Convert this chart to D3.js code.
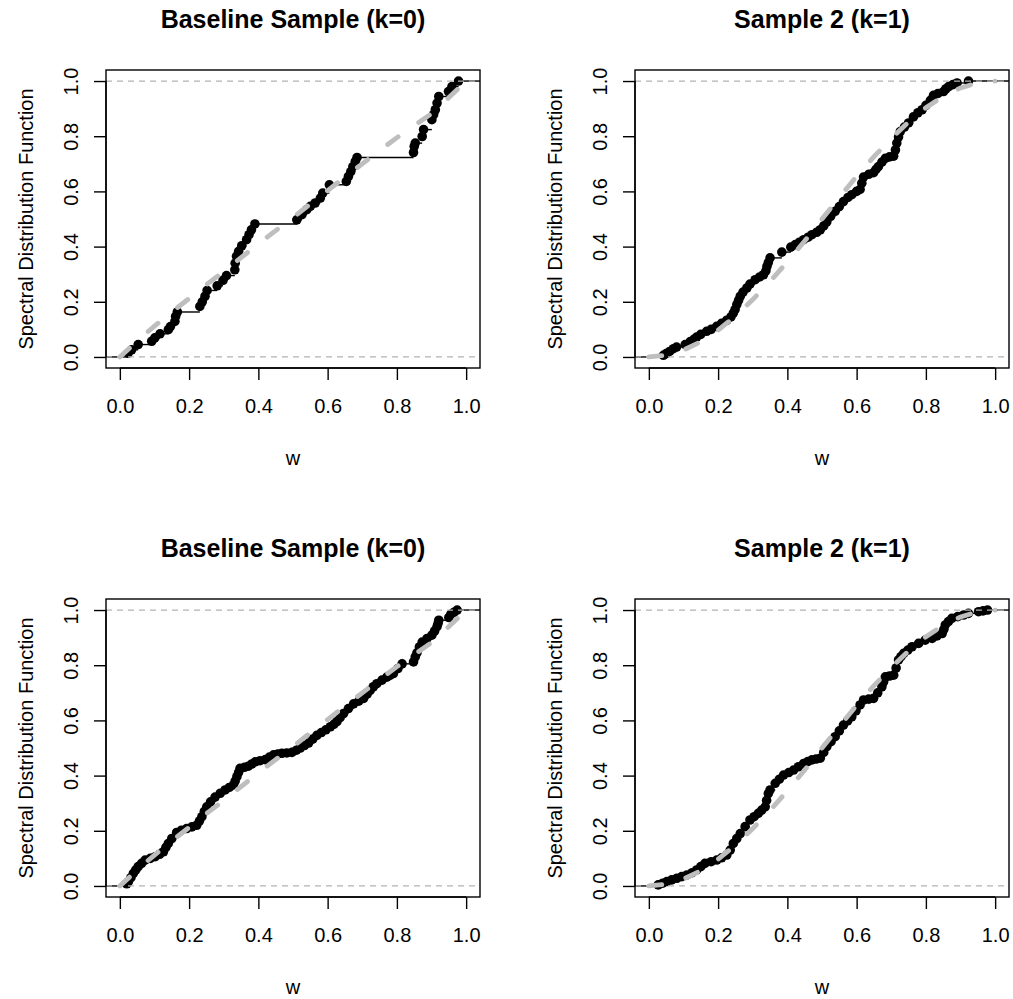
<!DOCTYPE html>
<html>
<head>
<meta charset="utf-8">
<script src="https://cdn.jsdelivr.net/npm/d3@7"></script>
<style>
  html, body { margin: 0; padding: 0; background: #fff; }
  svg { display: block; font-family: "Liberation Sans", Arial, Helvetica, sans-serif; }
</style>
</head>
<body>
<svg id="chart" width="1013" height="999"></svg>
<script>
// tick values and titles
const wTicks = [0, 0.2, 0.4, 0.6, 0.8, 1.0];
const fTicks = [0, 0.2, 0.4, 0.6, 0.8, 1.0];
const titles = ["Baseline Sample (k=0)", "Sample 2 (k=1)", "Baseline Sample (k=0)", "Sample 2 (k=1)"];

// theoretical spectral distribution (grey dashed)
const curveW  = [0, 0.05, 0.1, 0.15, 0.2, 0.25, 0.3, 0.35, 0.4, 0.45, 0.5, 0.55, 0.6, 0.65, 0.7, 0.75, 0.8, 0.85, 0.9, 0.95, 1.0];
const curveK0 = [0, 0.058, 0.112, 0.163, 0.212, 0.262, 0.31, 0.36, 0.41, 0.458, 0.505, 0.555, 0.603, 0.652, 0.7, 0.748, 0.795, 0.838, 0.882, 0.94, 1.0];
const curveK1 = [0, 0.006, 0.025, 0.055, 0.097, 0.148, 0.208, 0.274, 0.345, 0.42, 0.5, 0.578, 0.655, 0.726, 0.792, 0.852, 0.903, 0.945, 0.975, 0.994, 1.0];

// empirical SDF points [w, Fn(w)] for each panel
const topLeftPts = [
  [0.024,0.014],[0.034,0.026],[0.053,0.045],[0.092,0.057],[0.101,0.069],[0.116,0.084],[0.14,0.099],
  [0.146,0.11],[0.159,0.129],[0.161,0.147],[0.166,0.163],[0.231,0.183],[0.238,0.2],[0.246,0.22],
  [0.252,0.241],[0.281,0.258],[0.298,0.278],[0.308,0.295],[0.332,0.316],[0.333,0.34],[0.337,0.365],
  [0.343,0.383],[0.352,0.403],[0.366,0.425],[0.373,0.443],[0.38,0.461],[0.39,0.482],[0.511,0.497],
  [0.526,0.516],[0.54,0.534],[0.55,0.546],[0.564,0.558],[0.579,0.576],[0.586,0.594],[0.605,0.624],
  [0.654,0.636],[0.66,0.654],[0.667,0.672],[0.673,0.69],[0.68,0.709],[0.685,0.723],[0.848,0.741],
  [0.85,0.763],[0.853,0.775],[0.873,0.799],[0.877,0.824],[0.901,0.86],[0.906,0.878],[0.911,0.896],
  [0.916,0.92],[0.921,0.944],[0.949,0.962],[0.959,0.98],[0.978,1.0]
];
const topRightPts = [
  [0.042,0.006],[0.05,0.012],[0.06,0.02],[0.071,0.03],[0.08,0.036],[0.105,0.045],[0.12,0.056],
  [0.13,0.064],[0.138,0.072],[0.15,0.082],[0.167,0.093],[0.18,0.1],[0.196,0.111],[0.21,0.122],
  [0.225,0.133],[0.237,0.145],[0.244,0.159],[0.249,0.172],[0.254,0.19],[0.259,0.205],[0.264,0.22],
  [0.272,0.235],[0.283,0.25],[0.292,0.264],[0.307,0.28],[0.32,0.29],[0.331,0.298],[0.338,0.312],
  [0.341,0.328],[0.345,0.342],[0.35,0.359],[0.384,0.38],[0.41,0.398],[0.423,0.407],[0.435,0.416],
  [0.447,0.425],[0.46,0.434],[0.471,0.443],[0.485,0.452],[0.495,0.461],[0.505,0.475],[0.514,0.49],
  [0.525,0.51],[0.538,0.528],[0.55,0.545],[0.562,0.563],[0.575,0.578],[0.586,0.588],[0.6,0.6],
  [0.61,0.607],[0.615,0.63],[0.62,0.652],[0.635,0.662],[0.649,0.668],[0.656,0.68],[0.663,0.69],
  [0.673,0.706],[0.683,0.72],[0.695,0.725],[0.707,0.728],[0.712,0.75],[0.716,0.775],[0.721,0.797],
  [0.726,0.817],[0.738,0.833],[0.75,0.848],[0.764,0.87],[0.777,0.885],[0.789,0.896],[0.8,0.912],
  [0.813,0.93],[0.822,0.948],[0.835,0.955],[0.851,0.962],[0.858,0.972],[0.866,0.98],[0.878,0.987],
  [0.89,0.993],[0.923,1.0]
];
const bottomLeftPts = [
  [0.02,0.008],[0.025,0.016],[0.032,0.03],[0.039,0.046],[0.046,0.058],[0.053,0.07],[0.063,0.082],
  [0.073,0.094],[0.088,0.1],[0.102,0.106],[0.115,0.115],[0.126,0.124],[0.133,0.14],[0.14,0.154],
  [0.15,0.172],[0.164,0.194],[0.178,0.202],[0.193,0.208],[0.208,0.214],[0.222,0.22],[0.23,0.236],
  [0.237,0.251],[0.244,0.27],[0.251,0.287],[0.262,0.305],[0.275,0.322],[0.29,0.336],[0.304,0.348],
  [0.316,0.357],[0.328,0.366],[0.333,0.38],[0.338,0.396],[0.343,0.412],[0.347,0.426],[0.36,0.43],
  [0.371,0.434],[0.381,0.442],[0.391,0.45],[0.405,0.454],[0.42,0.458],[0.432,0.467],[0.444,0.475],
  [0.456,0.478],[0.468,0.481],[0.482,0.482],[0.497,0.484],[0.51,0.492],[0.521,0.5],[0.533,0.509],
  [0.545,0.518],[0.557,0.532],[0.569,0.546],[0.582,0.556],[0.595,0.566],[0.608,0.577],[0.618,0.586],
  [0.627,0.596],[0.636,0.61],[0.646,0.625],[0.66,0.643],[0.675,0.66],[0.69,0.67],[0.704,0.68],
  [0.714,0.695],[0.723,0.709],[0.732,0.722],[0.742,0.733],[0.757,0.746],[0.771,0.757],[0.78,0.763],
  [0.79,0.77],[0.803,0.788],[0.815,0.805],[0.848,0.812],[0.853,0.83],[0.858,0.845],[0.865,0.866],
  [0.873,0.884],[0.887,0.897],[0.901,0.909],[0.909,0.924],[0.916,0.94],[0.919,0.952],[0.921,0.963],
  [0.95,0.973],[0.956,0.985],[0.965,0.992],[0.974,1.0]
];
const bottomRightPts = [
  [0.027,0.004],[0.04,0.01],[0.052,0.016],[0.066,0.022],[0.081,0.028],[0.095,0.034],[0.11,0.04],
  [0.125,0.048],[0.138,0.058],[0.15,0.07],[0.162,0.082],[0.18,0.088],[0.196,0.094],[0.21,0.102],
  [0.225,0.112],[0.235,0.13],[0.244,0.154],[0.254,0.172],[0.264,0.19],[0.278,0.215],[0.292,0.239],
  [0.304,0.251],[0.316,0.263],[0.326,0.275],[0.336,0.287],[0.34,0.31],[0.345,0.335],[0.35,0.348],
  [0.365,0.372],[0.377,0.387],[0.389,0.402],[0.404,0.411],[0.418,0.42],[0.432,0.432],[0.447,0.444],
  [0.459,0.451],[0.471,0.457],[0.483,0.46],[0.495,0.463],[0.505,0.484],[0.514,0.505],[0.526,0.523],
  [0.538,0.541],[0.55,0.562],[0.562,0.583],[0.574,0.598],[0.586,0.613],[0.598,0.635],[0.61,0.656],
  [0.62,0.674],[0.635,0.677],[0.649,0.68],[0.661,0.7],[0.673,0.722],[0.678,0.74],[0.683,0.758],
  [0.695,0.761],[0.707,0.764],[0.714,0.79],[0.721,0.819],[0.728,0.831],[0.736,0.843],[0.748,0.855],
  [0.76,0.867],[0.779,0.879],[0.798,0.891],[0.818,0.897],[0.832,0.906],[0.847,0.915],[0.852,0.93],
  [0.856,0.946],[0.865,0.958],[0.875,0.97],[0.892,0.976],[0.909,0.982],[0.923,0.988],[0.952,0.994],
  [0.965,0.997],[0.978,1.0]
];

const panelPts = [topLeftPts, topRightPts, bottomLeftPts, bottomRightPts];
const panelCurve = [curveK0, curveK1, curveK0, curveK1];

// layout (R par(mfrow=c(2,2)) style)
const colLeft = [106, 635];
const rowTop = [70, 599];
const pw = 374, ph = 298;
const tickLen = 12;

const svg = d3.select("#chart");

panelPts.forEach((pts, i) => {
  const left = colLeft[i % 2], top = rowTop[Math.floor(i / 2)];
  const x = d3.scaleLinear().domain([-0.04, 1.04]).range([left, left + pw]);
  const y = d3.scaleLinear().domain([-0.04, 1.04]).range([top + ph, top]);
  const g = svg.append("g");

  const clipId = "clip" + i;
  svg.append("clipPath").attr("id", clipId)
    .append("rect").attr("x", left).attr("y", top).attr("width", pw).attr("height", ph);
  const plot = g.append("g").attr("clip-path", `url(#${clipId})`);

  // horizontal step segments (verticals = FALSE)
  const xs = pts.map(d => d[0]);
  const segs = [[-0.04, xs[0], 0]].concat(pts.map((d, j) => [d[0], j + 1 < pts.length ? xs[j + 1] : 1.04, d[1]]));
  plot.selectAll("line.step")
    .data(segs)
    .join("line")
    .attr("class", "step")
    .attr("x1", d => x(d[0])).attr("x2", d => x(d[1]))
    .attr("y1", d => y(d[2])).attr("y2", d => y(d[2]))
    .attr("stroke", "#000").attr("stroke-width", 1.4);

  plot.selectAll("circle")
    .data(pts)
    .join("circle")
    .attr("cx", d => x(d[0]))
    .attr("cy", d => y(d[1]))
    .attr("r", 4.8)
    .attr("fill", "#000");

  // 0 / 1 reference lines
  plot.selectAll("line.ref")
    .data([0, 1])
    .join("line")
    .attr("class", "ref")
    .attr("x1", left).attr("x2", left + pw)
    .attr("y1", d => y(d)).attr("y2", d => y(d))
    .attr("stroke", "#b3b3b3").attr("stroke-width", 1.3)
    .attr("stroke-dasharray", "6,5");

  // theoretical curve
  const line = d3.line().x((d, j) => x(curveW[j])).y(d => y(d));
  plot.append("path")
    .attr("d", line(panelCurve[i]))
    .attr("fill", "none")
    .attr("stroke", "#bebebe")
    .attr("stroke-width", 4.8)
    .attr("stroke-linecap", "round")
    .attr("stroke-dasharray", "13,25");

  // box
  g.append("rect")
    .attr("x", left).attr("y", top).attr("width", pw).attr("height", ph)
    .attr("fill", "none").attr("stroke", "#000").attr("stroke-width", 1.4);

  // axes
  const xAxis = d3.axisBottom(x).tickValues(wTicks).tickSize(tickLen).tickFormat(d3.format(".1f"));
  const ax = g.append("g").attr("transform", `translate(0,${top + ph})`).call(xAxis);
  ax.select(".domain").attr("d", `M${x(0)},0H${x(1)}`).attr("stroke-width", 1.4);
  ax.selectAll(".tick line").attr("stroke-width", 1.4);
  ax.selectAll(".tick text").attr("font-size", 20).attr("font-family", null)
    .attr("y", 45).attr("dy", null).attr("fill", "#000");

  const yAxis = d3.axisLeft(y).tickValues(fTicks).tickSize(tickLen).tickFormat(d3.format(".1f"));
  const ay = g.append("g").attr("transform", `translate(${left},0)`).call(yAxis);
  ay.select(".domain").attr("d", `M0,${y(0)}V${y(1)}`).attr("stroke-width", 1.4);
  ay.selectAll(".tick line").attr("stroke-width", 1.4);
  ay.selectAll(".tick text").attr("font-size", 20).attr("font-family", null)
    .attr("x", null).attr("dy", null)
    .attr("transform", "translate(-28,0) rotate(-90)")
    .attr("text-anchor", "middle").attr("fill", "#000");

  // titles and axis labels
  g.append("text")
    .attr("x", left + pw / 2).attr("y", top - 42)
    .attr("text-anchor", "middle").attr("font-size", 25).attr("font-weight", "bold")
    .text(titles[i]);
  g.append("text")
    .attr("x", left + pw / 2).attr("y", top + ph + 97)
    .attr("text-anchor", "middle").attr("font-size", 20)
    .text("w");
  g.append("text")
    .attr("transform", `translate(${left - 73},${top + ph / 2}) rotate(-90)`)
    .attr("text-anchor", "middle").attr("font-size", 20)
    .text("Spectral Distribution Function");
});
</script>
</body>
</html>
